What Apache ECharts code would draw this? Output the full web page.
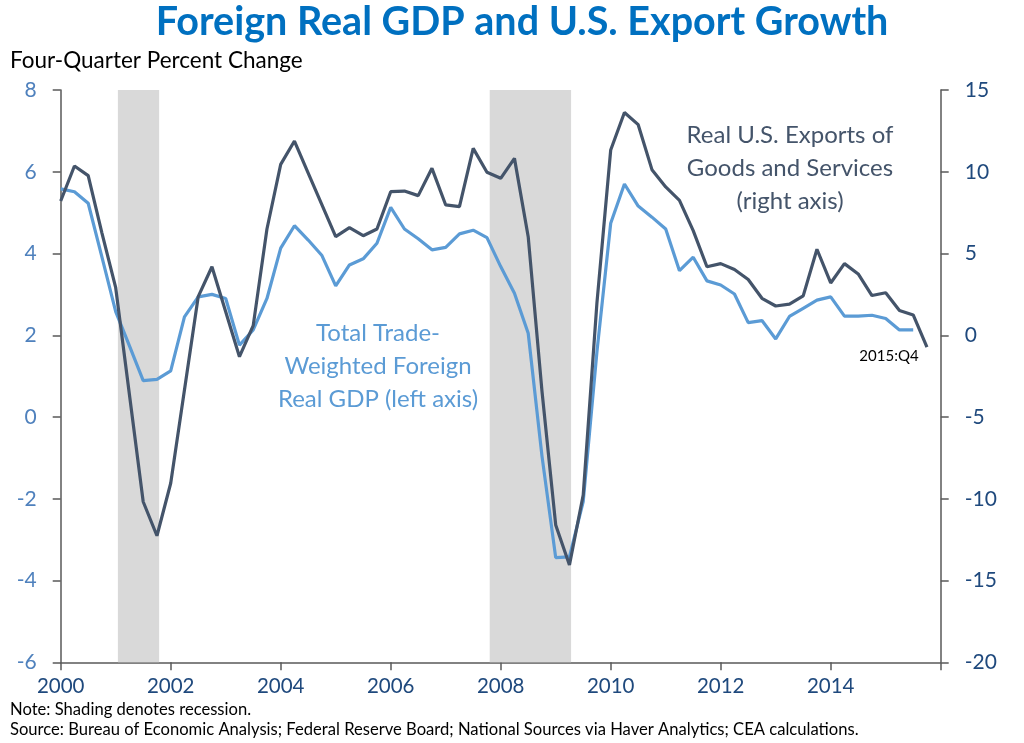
<!DOCTYPE html>
<html>
<head>
<meta charset="utf-8">
<script src="https://cdn.jsdelivr.net/npm/echarts@6/dist/echarts.min.js"></script>
<style>
  html, body { margin: 0; padding: 0; background: #fff; }
  #chart { width: 1024px; height: 743px; }
</style>
</head>
<body>
<div id="chart"></div>
<script>
// ---- Data ----
const years = [2000, 2001, 2002, 2003, 2004, 2005, 2006, 2007, 2008, 2009, 2010, 2011, 2012, 2013, 2014, 2015];
const quarterNames = ['Q1', 'Q2', 'Q3', 'Q4'];
const quarters = [];
years.forEach(y => quarterNames.forEach(q => quarters.push(y + ':' + q)));

// Total trade-weighted foreign real GDP, four-quarter % change (left axis)
const foreignGDP = [
  5.58, 5.51, 5.23, 3.91, 2.58, 1.74, 0.89, 0.92, 1.13, 2.45, 2.94, 3.00, 2.90, 1.76, 2.13, 2.90,
  4.13, 4.68, 4.33, 3.95, 3.21, 3.72, 3.87, 4.25, 5.13, 4.60, 4.36, 4.09, 4.15, 4.48, 4.57, 4.39,
  3.68, 3.03, 2.05, -0.95, -3.44, -3.42, -2.07, 1.60, 4.74, 5.70, 5.16, 4.89, 4.60, 3.58, 3.91, 3.33,
  3.23, 3.01, 2.31, 2.36, 1.91, 2.46, 2.66, 2.86, 2.94, 2.47, 2.47, 2.49, 2.41, 2.13, 2.13, null
];

// Real U.S. exports of goods and services, four-quarter % change (right axis)
const usExports = [
  8.21, 10.35, 9.76, 6.25, 2.91, -3.64, -10.18, -12.26, -9.05, -3.35, 2.36, 4.19, 1.44, -1.31, 0.59, 6.50,
  10.45, 11.88, 9.92, 7.97, 6.03, 6.58, 6.09, 6.50, 8.78, 8.82, 8.54, 10.21, 7.97, 7.87, 11.43, 9.97,
  9.60, 10.82, 6.03, -3.40, -11.60, -14.05, -9.77, 2.00, 11.33, 13.62, 12.88, 10.13, 9.07, 8.25, 6.40, 4.19,
  4.38, 4.02, 3.41, 2.26, 1.79, 1.90, 2.41, 5.26, 3.20, 4.38, 3.75, 2.43, 2.60, 1.51, 1.24, -0.73
];

// Recessions (fractional years)
const recessions = [[2001.04, 2001.79], [2007.8, 2009.28]];

const leftTicks = { min: -6, max: 8, interval: 2 };
const rightTicks = { min: -20, max: 15, interval: 5 };
const xTicks = { min: 2000, max: 2016, interval: 2 };

// ---- Build ----
function qToX(label) {
  const parts = label.split(':Q');
  return Number(parts[0]) + (Number(parts[1]) - 1) / 4;
}
const gdpData = quarters.map((q, i) => [qToX(q), foreignGDP[i]]).filter(d => d[1] !== null);
const expData = quarters.map((q, i) => [qToX(q), usExports[i]]);

const FONT = 'Lato, "Open Sans", sans-serif';
const axisLineStyle = { color: '#595959', width: 1.5 };

const chart = echarts.init(document.getElementById('chart'));
chart.setOption({
  animation: false,
  backgroundColor: '#ffffff',
  grid: { left: 60.7, right: 83.3, top: 90, bottom: 80.7, containLabel: false },
  xAxis: {
    type: 'value',
    min: xTicks.min, max: xTicks.max, interval: xTicks.interval,
    axisLine: { show: true, lineStyle: axisLineStyle, onZero: false },
    axisTick: { show: true, length: 8, lineStyle: axisLineStyle },
    splitLine: { show: false },
    axisLabel: {
      color: '#1F497D', fontSize: 20.5, fontFamily: FONT, margin: 14,
      formatter: v => (v === xTicks.max ? '' : String(v))
    }
  },
  yAxis: [
    {
      type: 'value', position: 'left',
      min: leftTicks.min, max: leftTicks.max, interval: leftTicks.interval,
      axisLine: { show: true, lineStyle: axisLineStyle },
      axisTick: { show: true, length: 8, lineStyle: axisLineStyle },
      splitLine: { show: false },
      axisLabel: { color: '#4F81BD', fontSize: 21, fontFamily: FONT, margin: 24 }
    },
    {
      type: 'value', position: 'right',
      min: rightTicks.min, max: rightTicks.max, interval: rightTicks.interval,
      axisLine: { show: true, lineStyle: axisLineStyle },
      axisTick: { show: true, length: 8, lineStyle: axisLineStyle },
      splitLine: { show: false },
      axisLabel: { color: '#1F497D', fontSize: 21, fontFamily: FONT, margin: 24 }
    }
  ],
  series: [
    {
      name: 'Total Trade-Weighted Foreign Real GDP',
      type: 'line', yAxisIndex: 0, data: gdpData,
      showSymbol: false, symbol: 'none',
      lineStyle: { color: '#5B9BD5', width: 3.2 },
      itemStyle: { color: '#5B9BD5' },
      z: 3,
      markArea: {
        silent: true,
        itemStyle: { color: '#D9D9D9' },
        data: recessions.map(r => [{ xAxis: r[0] }, { xAxis: r[1] }])
      }
    },
    {
      name: 'Real U.S. Exports of Goods and Services',
      type: 'line', yAxisIndex: 1, data: expData,
      showSymbol: false, symbol: 'none',
      lineStyle: { color: '#44546A', width: 3.2 },
      itemStyle: { color: '#44546A' },
      z: 4
    }
  ],
  graphic: [
    { type: 'text', x: 522, y: 2, style: {
      text: 'Foreign Real GDP and U.S. Export Growth', fill: '#0070C0',
      font: 'bold 39.5px ' + FONT, align: 'center' } },
    { type: 'text', left: 10, top: 49, style: {
      text: 'Four-Quarter Percent Change', fill: '#000000', font: '22.5px ' + FONT } },
    { type: 'text', x: 790, y: 119, style: {
      text: 'Real U.S. Exports of\nGoods and Services\n(right axis)', fill: '#44546A',
      font: '24px ' + FONT, align: 'center', lineHeight: 33 } },
    { type: 'text', x: 378, y: 317, style: {
      text: 'Total Trade-\nWeighted Foreign\nReal GDP (left axis)', fill: '#5B9BD5',
      font: '24px ' + FONT, align: 'center', lineHeight: 33 } },
    { type: 'text', x: 889, y: 349, style: {
      text: '2015:Q4', fill: '#000000', font: '15px ' + FONT, align: 'center' } },
    { type: 'text', left: 10, top: 701, style: {
      text: 'Note: Shading denotes recession.', fill: '#000000', font: '16.6px ' + FONT } },
    { type: 'text', left: 10, top: 721, style: {
      text: 'Source: Bureau of Economic Analysis; Federal Reserve Board; National Sources via Haver Analytics; CEA calculations.',
      fill: '#000000', font: '16.6px ' + FONT } }
  ]
});
</script>
</body>
</html>
